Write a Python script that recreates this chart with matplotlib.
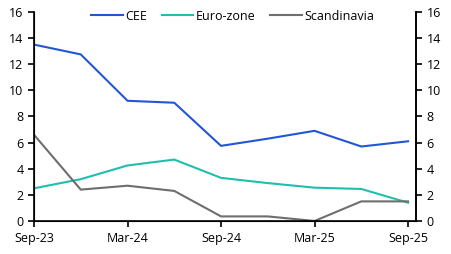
import matplotlib
matplotlib.use("Agg")
import matplotlib.pyplot as plt
import numpy as np

plt.rcParams['font.family'] = ['Open Sans', 'DejaVu Sans']

quarters = ["Sep-23", "Dec-23", "Mar-24", "Jun-24", "Sep-24", "Dec-24", "Mar-25", "Jun-25", "Sep-25"]
cee = [13.5, 12.75, 9.2, 9.05, 5.75, 6.3, 6.9, 5.7, 6.1]
euro = [2.5, 3.2, 4.25, 4.7, 3.3, 2.9, 2.55, 2.45, 1.4]
scand = [6.6, 2.4, 2.7, 2.3, 0.35, 0.35, 0.0, 1.5, 1.5]
tick_labels = ["Sep-23", "Mar-24", "Sep-24", "Mar-25", "Sep-25"]

fig = plt.figure(figsize=(4.51, 2.54), dpi=100)
ax = fig.add_axes([0.0754, 0.130, 0.847, 0.823])
x = np.arange(len(quarters))
ax.plot(x, cee, color='#2356d6', lw=1.5, label='CEE')
ax.plot(x, euro, color='#1fbfae', lw=1.5, label='Euro-zone')
ax.plot(x, scand, color='#6e6e6e', lw=1.5, label='Scandinavia')

ax.set_xlim(0, 8.17)
ax.set_ylim(0, 16)
ax.set_yticks(range(0, 17, 2))
ax.set_xticks([0, 2, 4, 6, 8])
ax.set_xticklabels(tick_labels)
for s in ['top']:
    ax.spines[s].set_visible(False)
for s in ['left', 'right', 'bottom']:
    ax.spines[s].set_linewidth(1.2)
ax.tick_params(axis='both', labelsize=9, length=4, width=1.2, direction='out')
ax.tick_params(axis='x', pad=4)

ax2 = ax.twinx()
ax2.set_ylim(0, 16)
ax2.set_yticks(range(0, 17, 2))
ax2.spines['top'].set_visible(False)
ax2.spines['right'].set_linewidth(1.2)
ax2.tick_params(axis='y', labelsize=9, length=4, width=1.2, direction='out')

leg = ax.legend(loc='upper center', bbox_to_anchor=(0.52, 1.065), ncol=3, frameon=False,
                fontsize=9, handlelength=2.5, columnspacing=1.2, handletextpad=0.2)

fig.savefig('out.png', dpi=100)
